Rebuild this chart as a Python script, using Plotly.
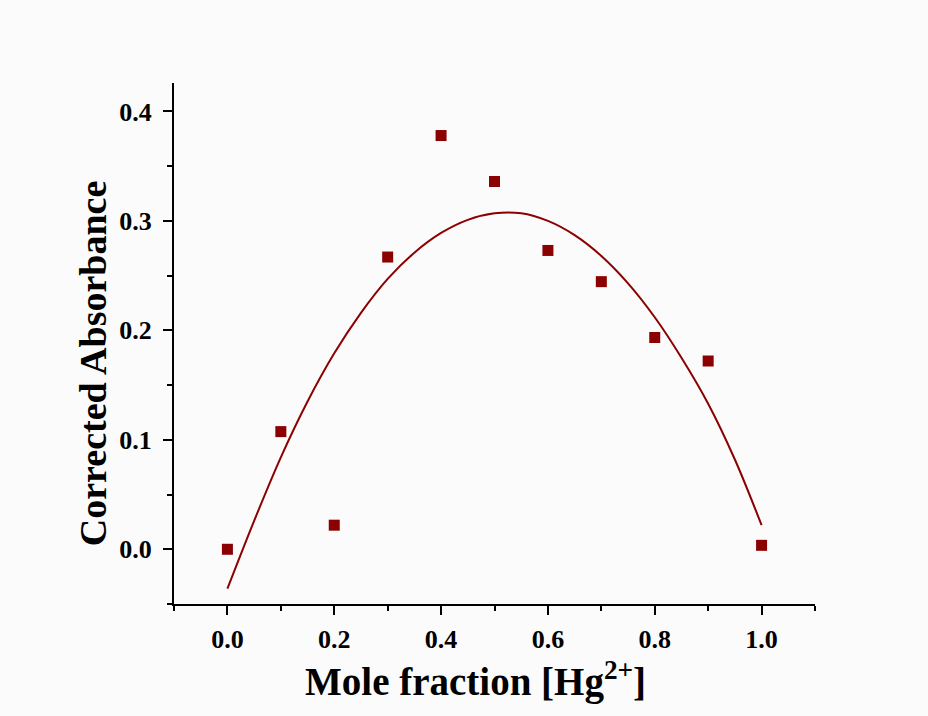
import plotly.graph_objects as go

# Measured data (Job's plot)
mole_fraction = [0.0, 0.1, 0.2, 0.3, 0.4, 0.5, 0.6, 0.7, 0.8, 0.9, 1.0]
corrected_abs = [0.000, 0.1075, 0.022, 0.267, 0.378, 0.336, 0.273, 0.2445, 0.1935, 0.172, 0.0036]

# Fitted curve
fit_x = [0.0, 0.05, 0.1, 0.15, 0.2, 0.25, 0.3, 0.35, 0.4, 0.45, 0.5, 0.55, 0.6, 0.65, 0.7, 0.75, 0.8, 0.85, 0.9, 0.95, 1.0]
fit_y = [-0.036, 0.026, 0.084, 0.135, 0.179, 0.216, 0.247, 0.271, 0.289, 0.301, 0.307, 0.307, 0.300, 0.287, 0.268, 0.243, 0.212, 0.175, 0.133, 0.082, 0.022]

x_tickvals = [0.0, 0.2, 0.4, 0.6, 0.8, 1.0]
x_ticktext = ["0.0", "0.2", "0.4", "0.6", "0.8", "1.0"]
y_tickvals = [0.0, 0.1, 0.2, 0.3, 0.4]
y_ticktext = ["0.0", "0.1", "0.2", "0.3", "0.4"]

COLOR = "#8b0000"
FONT = "Liberation Serif"

fig = go.Figure()
fig.add_trace(go.Scatter(x=fit_x, y=fit_y, mode="lines",
                         line=dict(color=COLOR, width=2, shape="spline", smoothing=1.0),
                         showlegend=False, hoverinfo="skip"))
fig.add_trace(go.Scatter(x=mole_fraction, y=corrected_abs, mode="markers",
                         marker=dict(symbol="square", size=11, color=COLOR),
                         showlegend=False))

axis_common = dict(
    showgrid=False, zeroline=False, showline=True, linecolor="black", linewidth=2,
    ticks="outside", ticklen=9, tickwidth=2, tickcolor="black",
    tickfont=dict(family=FONT, size=26, color="black", weight="bold"),
    mirror=False,
)

fig.update_xaxes(range=[-0.1, 1.1], tickvals=x_tickvals, ticktext=x_ticktext,
                 minor=dict(ticks="outside", ticklen=5, tickwidth=2, tickcolor="black", dtick=0.1, tick0=0),
                 ticklabelstandoff=2, **axis_common)
fig.update_yaxes(range=[-0.05, 0.426], tickvals=y_tickvals, ticktext=y_ticktext,
                 minor=dict(ticks="outside", ticklen=5, tickwidth=2, tickcolor="black", dtick=0.05, tick0=0),
                 ticklabelstandoff=6, **axis_common)

fig.add_annotation(text="<b>Mole fraction [Hg<sup>2+</sup>]</b>", xref="paper", yref="paper",
                   x=0.471, y=-0.145, xanchor="center", yanchor="middle", showarrow=False,
                   font=dict(family=FONT, size=39, color="black"))
fig.add_annotation(text="<b>Corrected Absorbance</b>", xref="paper", yref="paper",
                   x=-0.126, y=0.4626, xanchor="center", yanchor="middle", showarrow=False,
                   textangle=-90, font=dict(family=FONT, size=38, color="black"))

fig.update_layout(width=928, height=716,
                  margin=dict(l=174, r=113, t=83, b=112),
                  paper_bgcolor="#fbfbfb", plot_bgcolor="#fbfbfb")

fig.write_html("out.html")
